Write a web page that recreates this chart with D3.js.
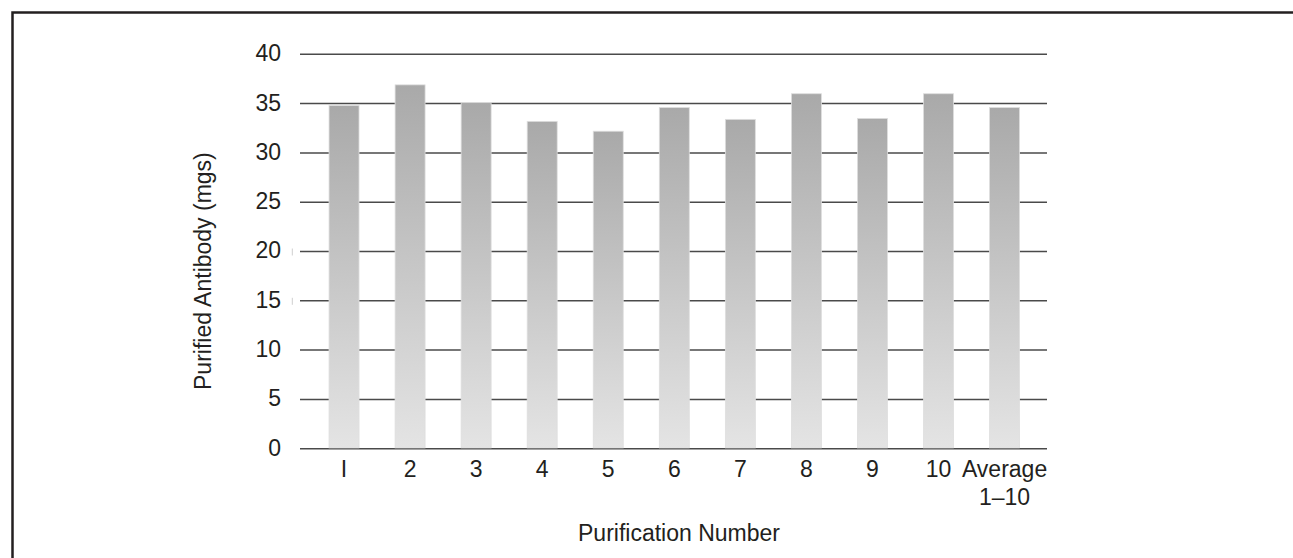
<!DOCTYPE html>
<html>
<head>
<meta charset="utf-8">
<script src="https://cdn.jsdelivr.net/npm/d3@7"></script>
<style>
  html, body { margin: 0; padding: 0; background: #fff; }
  svg { display: block; }
  text { font-family: "Liberation Sans", Arial, Helvetica, sans-serif; fill: #231f20; }
</style>
</head>
<body>
<svg id="chart" width="1293" height="558"></svg>
<script>
const categories = ["I", "2", "3", "4", "5", "6", "7", "8", "9", "10", "Average\n1–10"];
const values = [34.8, 36.9, 35.1, 33.2, 32.2, 34.6, 33.4, 36.0, 33.5, 36.0, 34.6];
const yTicks = [0, 5, 10, 15, 20, 25, 30, 35, 40];
const faintTicks = [20, 15];
const xTitle = "Purification Number";
const yTitle = "Purified Antibody (mgs)";

const svg = d3.select("#chart");
const FS = 23;

// frame
svg.append("rect")
  .attr("x", 12.5).attr("y", 12.5)
  .attr("width", 1400).attr("height", 700)
  .attr("fill", "none").attr("stroke", "#231f20").attr("stroke-width", 2.5);

const defs = svg.append("defs");
const grad = defs.append("linearGradient")
  .attr("id", "barGrad").attr("x1", 0).attr("y1", 0).attr("x2", 0).attr("y2", 1);
grad.append("stop").attr("offset", "0%").attr("stop-color", "#a9a9a9");
grad.append("stop").attr("offset", "100%").attr("stop-color", "#e4e4e4");

const plotLeft = 300, plotRight = 1047;
const y = d3.scaleLinear().domain([0, 40]).range([448.7, 54.3]);
const x = d3.scaleBand().domain(categories)
  .range([311, 1037.6]).paddingInner(0.546).paddingOuter(0.273);

// gridlines
svg.append("g").selectAll("line").data(yTicks).join("line")
  .attr("x1", plotLeft).attr("x2", plotRight)
  .attr("y1", d => y(d)).attr("y2", d => y(d))
  .attr("stroke", "#4a4a4a").attr("stroke-width", 1.5);

// faint scan marks
svg.append("g").selectAll("line").data(faintTicks).join("line")
  .attr("x1", 292.3).attr("x2", 292.3)
  .attr("y1", d => y(d) - 3).attr("y2", d => y(d) + 4)
  .attr("stroke", "#cfcfcf").attr("stroke-width", 1);

// y tick labels
svg.append("g").selectAll("text").data(yTicks).join("text")
  .attr("x", 281).attr("y", d => y(d)).attr("dy", "0.3em")
  .attr("text-anchor", "end").attr("font-size", FS)
  .text(d => d);

// bars
svg.append("g").selectAll("rect").data(values).join("rect")
  .attr("x", (d, i) => x(categories[i]))
  .attr("width", x.bandwidth())
  .attr("y", d => y(d))
  .attr("height", d => y(0) - y(d) - 0.8)
  .attr("fill", "url(#barGrad)")
  .attr("stroke", "#dedede").attr("stroke-width", 0.8);

// x labels
const xl = svg.append("g").selectAll("text").data(categories).join("text")
  .attr("x", d => x(d) + x.bandwidth() / 2)
  .attr("y", 477)
  .attr("text-anchor", "middle").attr("font-size", FS);
xl.each(function(d) {
  const parts = d.split("\n");
  const t = d3.select(this);
  parts.forEach((p, k) => {
    t.append("tspan").attr("x", x(d) + x.bandwidth() / 2)
      .attr("dy", k === 0 ? 0 : 28).text(p);
  });
});

// axis titles
svg.append("text")
  .attr("x", 679).attr("y", 541)
  .attr("text-anchor", "middle").attr("font-size", FS)
  .text(xTitle);

svg.append("text")
  .attr("transform", "translate(211,390) rotate(-90)")
  .attr("text-anchor", "start").attr("font-size", FS)
  .text(yTitle);
</script>
</body>
</html>
